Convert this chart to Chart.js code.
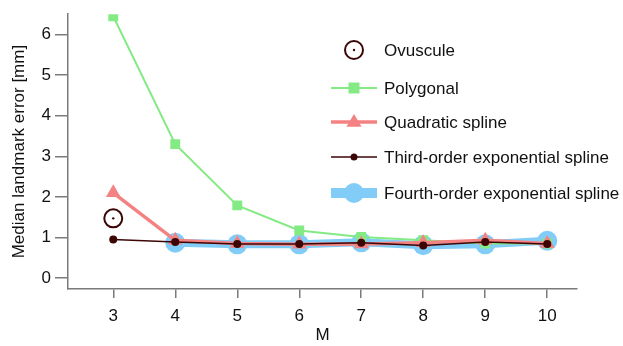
<!DOCTYPE html>
<html>
<head>
<meta charset="utf-8">
<script src="https://cdn.jsdelivr.net/npm/chart.js@4"></script>
<style>
  html, body { margin: 0; padding: 0; background: #fff; }
  #wrap { width: 623px; height: 346px; }
</style>
</head>
<body>
<div id="wrap"><canvas id="chart" width="623" height="346"></canvas></div>
<script>
// values
const mValues = [3, 4, 5, 6, 7, 8, 9, 10];
const ovuscule = [1.47, null, null, null, null, null, null, null];
const polygonal = [6.45, 3.3, 1.79, 1.17, 1.01, 0.93, 0.85, 0.85];
const quadratic = [2.1, 0.93, 0.85, 0.83, 0.84, 0.87, 0.93, 0.85];
const thirdOrder = [0.95, 0.89, 0.84, 0.84, 0.87, 0.8, 0.89, 0.84];
const fourthOrder = [null, 0.87, 0.83, 0.83, 0.88, 0.81, 0.83, 0.92];
const yTickLabels = [0, 1, 2, 3, 4, 5, 6];

const FONT = "'Liberation Sans', Arial, Helvetica, sans-serif";
const AXIS = "#7a7a7a";
const GREEN = "#84ea84";
const RED = "#f58282";
const DARK = "#3c0606";
const BLUE = "#82cdf7";

function pts(arr) {
    return mValues.map((m, i) => ({ x: m, y: arr[i] }));
}

const legendItems = [
    { label: "Ovuscule", kind: "ovuscule" },
    { label: "Polygonal", color: GREEN, lw: 2, style: "rect", r: 5.5 },
    { label: "Quadratic spline", color: RED, lw: 3.5, style: "triangle", r: 8 },
    { label: "Third-order exponential spline", color: DARK, lw: 1.5, style: "circle", r: 3.5 },
    { label: "Fourth-order exponential spline", color: BLUE, lw: 10, style: "circle", r: 10 }
];

function drawMarker(ctx, style, x, y, r) {
    ctx.beginPath();
    if (style === "rect") {
        ctx.rect(x - r, y - r, 2 * r, 2 * r);
    } else if (style === "triangle") {
        ctx.moveTo(x, y - r);
        ctx.lineTo(x + r * 0.95, y + r * 0.6);
        ctx.lineTo(x - r * 0.95, y + r * 0.6);
        ctx.closePath();
    } else {
        ctx.arc(x, y, r, 0, Math.PI * 2);
    }
    ctx.fill();
}

const legendPlugin = {
    id: "customLegend",
    afterDraw(chart) {
        const ctx = chart.ctx;
        const rows = [50, 88, 122, 157, 193];
        ctx.save();
        ctx.font = "17px " + FONT;
        ctx.textBaseline = "middle";
        legendItems.forEach((it, i) => {
            const y = rows[i];
            if (it.kind === "ovuscule") {
                ctx.strokeStyle = DARK;
                ctx.lineWidth = 2;
                ctx.fillStyle = "#fff";
                ctx.beginPath();
                ctx.arc(354, y, 9, 0, Math.PI * 2);
                ctx.fill();
                ctx.stroke();
                ctx.fillStyle = DARK;
                ctx.beginPath();
                ctx.arc(354, y, 1.2, 0, Math.PI * 2);
                ctx.fill();
            } else {
                ctx.strokeStyle = it.color;
                ctx.lineWidth = it.lw;
                ctx.beginPath();
                ctx.moveTo(331, y);
                ctx.lineTo(377, y);
                ctx.stroke();
                ctx.fillStyle = it.color;
                drawMarker(ctx, it.style, 354, y, it.r);
            }
            ctx.fillStyle = "#111";
            ctx.fillText(it.label, 384, y + 1);
        });
        ctx.restore();
    }
};

new Chart(document.getElementById("chart"), {
    type: "line",
    data: {
        datasets: [
            {
                label: "Ovuscule",
                data: pts(ovuscule),
                showLine: false,
                pointStyle: "circle",
                pointRadius: 9,
                pointBorderWidth: 2,
                pointBorderColor: DARK,
                pointBackgroundColor: "#fff",
                order: 1
            },
            {
                label: "Ovuscule centre",
                data: pts(ovuscule),
                showLine: false,
                pointStyle: "circle",
                pointRadius: 1.2,
                pointBorderWidth: 0,
                pointBackgroundColor: DARK,
                order: 0
            },
            {
                label: "Polygonal",
                data: pts(polygonal),
                borderColor: GREEN,
                borderWidth: 2,
                pointStyle: "rect",
                pointRadius: 7,
                pointBorderWidth: 0,
                pointBackgroundColor: GREEN,
                order: 4
            },
            {
                label: "Quadratic spline",
                data: pts(quadratic),
                borderColor: RED,
                borderWidth: 3.5,
                pointStyle: "triangle",
                pointRadius: 8.5,
                pointBorderWidth: 0,
                pointBackgroundColor: RED,
                order: 3
            },
            {
                label: "Third-order exponential spline",
                data: pts(thirdOrder),
                borderColor: DARK,
                borderWidth: 1.5,
                pointStyle: "circle",
                pointRadius: 4,
                pointBorderWidth: 0,
                pointBackgroundColor: DARK,
                order: 2
            },
            {
                label: "Fourth-order exponential spline",
                data: pts(fourthOrder),
                borderColor: BLUE,
                borderWidth: 8,
                pointStyle: "circle",
                pointRadius: 10,
                pointBorderWidth: 0,
                pointBackgroundColor: BLUE,
                order: 5
            }
        ]
    },
    options: {
        responsive: false,
        animation: false,
        spanGaps: false,
        layout: { padding: { top: 13, right: 46, left: 0, bottom: 0 } },
        plugins: {
            legend: { display: false },
            tooltip: { enabled: false }
        },
        elements: { line: { tension: 0 } },
        scales: {
            x: {
                type: "linear",
                min: 2.27,
                max: 10.48,
                afterFit: s => { s.height = 57; },
                border: { display: true, color: AXIS, width: 1.5 },
                grid: { drawOnChartArea: false, drawTicks: true, tickLength: 9, color: AXIS, lineWidth: 1.5 },
                ticks: {
                    stepSize: 1,
                    includeBounds: false,
                    color: "#111",
                    font: { family: FONT, size: 17 },
                    padding: 8,
                    maxRotation: 0,
                    callback: v => (mValues.includes(v) ? String(v) : "")
                },
                title: {
                    display: true,
                    text: "M",
                    color: "#111",
                    font: { family: FONT, size: 17 },
                    padding: { top: -3, bottom: 0 }
                }
            },
            y: {
                min: -0.27,
                max: 6.5,
                afterFit: s => { s.width = 68; },
                border: { display: true, color: AXIS, width: 1.5 },
                grid: {
                    drawOnChartArea: false,
                    drawTicks: true,
                    tickLength: 13,
                    color: AXIS,
                    lineWidth: 1.5,
                    // minor ticks are drawn only on the half nearest the axis
                    tickBorderDash: c => (c.tick && Number.isInteger(c.tick.value) ? [] : [0, 6, 7, 50])
                },
                ticks: {
                    stepSize: 0.5,
                    includeBounds: false,
                    color: "#111",
                    font: { family: FONT, size: 17 },
                    padding: 4,
                    callback: v => (yTickLabels.includes(v) ? String(v) : "")
                },
                title: {
                    display: true,
                    text: "Median landmark error [mm]",
                    color: "#111",
                    font: { family: FONT, size: 17 },
                    padding: { top: 9, bottom: 0 }
                }
            }
        }
    },
    plugins: [legendPlugin]
});
</script>
</body>
</html>
